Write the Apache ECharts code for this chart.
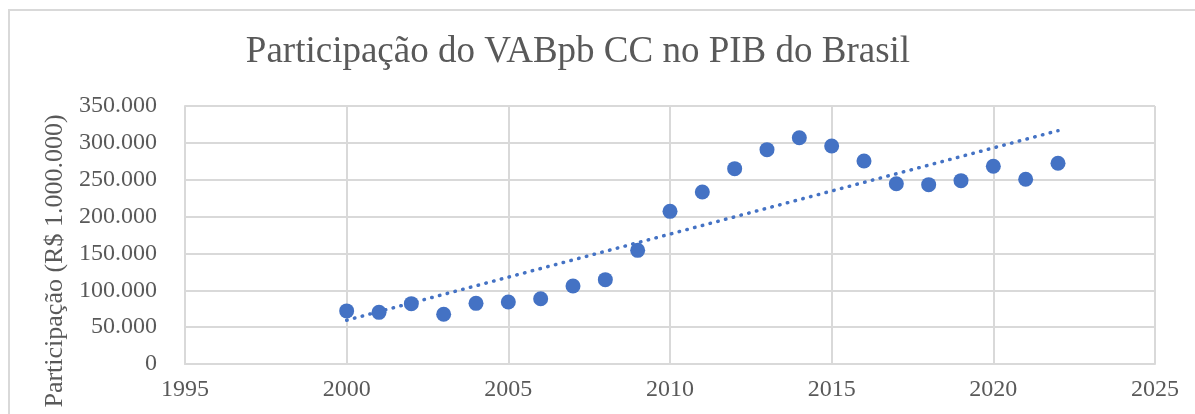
<!DOCTYPE html>
<html>
<head>
<meta charset="utf-8">
<script src="https://cdn.jsdelivr.net/npm/echarts@6/dist/echarts.min.js"></script>
<style>
  html, body { margin: 0; padding: 0; background: #fff; }
  #chart { width: 1195px; height: 414px; }
</style>
</head>
<body>
<div id="chart"></div>
<script>
var anos = [2000, 2001, 2002, 2003, 2004, 2005, 2006, 2007, 2008, 2009, 2010, 2011,
            2012, 2013, 2014, 2015, 2016, 2017, 2018, 2019, 2020, 2021, 2022];
var participacao = [72000, 70100, 81900, 67400, 82300, 84100, 88600, 105800, 114400, 154200, 207100, 233400,
                    265000, 290800, 307000, 295800, 275400, 244600, 243300, 248700, 268200, 250600, 272300];
var yTicks = [0, 50000, 100000, 150000, 200000, 250000, 300000, 350000];
var xTicks = [1995, 2000, 2005, 2010, 2015, 2020, 2025];

(function() {
  var myChart = echarts.init(document.getElementById("chart"));
  var fonte = "'Liberation Serif', 'Times New Roman', serif";
  var cinza = "#595959";
  var azul = "#4472c4";

  // linha de tendencia linear (minimos quadrados)
  var n = anos.length, sx = 0, sy = 0, sxx = 0, sxy = 0;
  for (var i = 0; i < n; i++) {
    sx += anos[i]; sy += participacao[i];
    sxx += anos[i] * anos[i]; sxy += anos[i] * participacao[i];
  }
  var b = (n * sxy - sx * sy) / (n * sxx - sx * sx);
  var a = (sy - b * sx) / n;
  var tendencia = [
    [anos[0], a + b * anos[0]],
    [anos[n - 1], a + b * anos[n - 1]]
  ];

  var pontos = anos.map(function(ano, i) { return [ano, participacao[i]]; });

  function milhar(v) {
    return String(v).replace(/\B(?=(\d{3})+(?!\d))/g, ".");
  }

  var option = {
    animation: false,
    title: {
      text: "Participação do VABpb CC no PIB do Brasil",
      left: 573,
      top: 29,
      textAlign: "center",
      textStyle: {
        fontFamily: fonte,
        fontSize: 37,
        fontWeight: "normal",
        color: cinza
      }
    },
    graphic: [{
      type: "rect",
      shape: { x: 9, y: 10, width: 1400, height: 600 },
      style: { fill: "none", stroke: "#d9d9d9", lineWidth: 2 },
      silent: true
    }],
    grid: {
      left: 185,
      right: 40,
      top: 106,
      bottom: 50,
      containLabel: false,
      outerBoundsMode: "none"
    },
    xAxis: {
      type: "value",
      min: xTicks[0],
      max: xTicks[xTicks.length - 1],
      interval: 5,
      axisLine: { show: true, lineStyle: { color: "#d9d9d9", width: 2 } },
      axisTick: { show: false },
      splitLine: { show: true, lineStyle: { color: "#d9d9d9", width: 2 } },
      axisLabel: {
        color: cinza,
        fontFamily: fonte,
        fontSize: 24,
        margin: 14,
        formatter: function(v) { return String(v); }
      }
    },
    yAxis: {
      type: "value",
      min: yTicks[0],
      max: yTicks[yTicks.length - 1],
      interval: 50000,
      name: "Participação (R$ 1.000.000)",
      nameLocation: "middle",
      nameGap: 108,
      nameTextStyle: {
        color: cinza,
        fontFamily: fonte,
        fontSize: 26,
        padding: [0, 0, 0, -52]
      },
      axisLine: { show: true, lineStyle: { color: "#d9d9d9", width: 2 } },
      axisTick: { show: false },
      splitLine: { show: true, lineStyle: { color: "#d9d9d9", width: 2 } },
      axisLabel: {
        color: cinza,
        fontFamily: fonte,
        fontSize: 24,
        margin: 28,
        formatter: milhar
      }
    },
    series: [
      {
        name: "Participação",
        type: "scatter",
        data: pontos,
        symbol: "circle",
        symbolSize: 15,
        itemStyle: { color: azul, opacity: 1 }
      },
      {
        name: "Tendência",
        type: "line",
        data: tendencia,
        symbol: "none",
        z: 3,
        lineStyle: {
          color: azul,
          width: 3.5,
          type: [0.5, 7.5],
          cap: "round"
        }
      }
    ]
  };
  myChart.setOption(option);
  window.addEventListener("resize", function() {
    myChart.resize();
  });
})();
</script>
</body>
</html>
